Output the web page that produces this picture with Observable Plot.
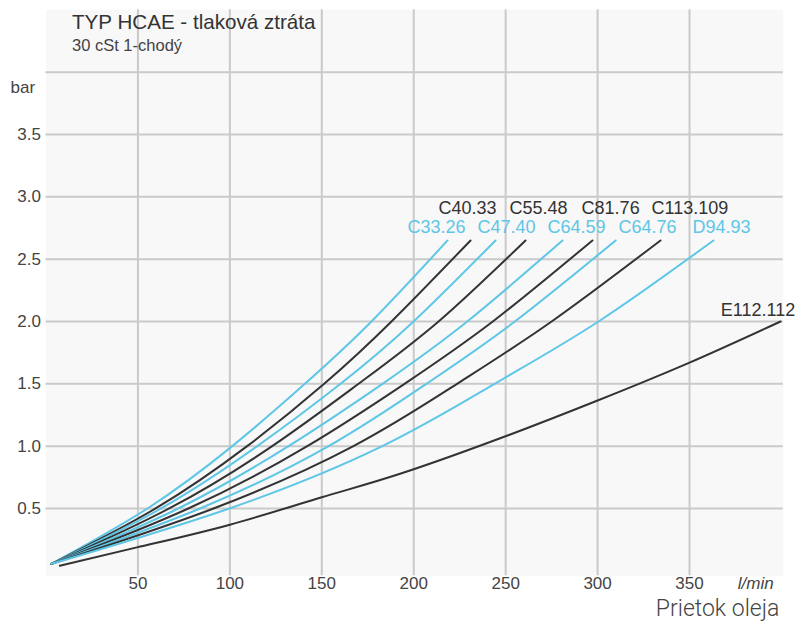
<!DOCTYPE html>
<html>
<head>
<meta charset="utf-8">
<script src="https://cdn.jsdelivr.net/npm/d3@7"></script>
<script src="https://cdn.jsdelivr.net/npm/@observablehq/plot@0.6"></script>
<style>
  html, body { margin: 0; padding: 0; background: #ffffff; }
  #chart svg { display: block; }
</style>
</head>
<body>
<div id="chart"></div>
<script>
// ---- data ----
const seriesNames = ["C33.26", "C40.33", "C47.40", "C55.48", "C64.59", "C81.76", "C64.76", "C113.109", "D94.93"];
const seriesGroup = ["light", "dark", "light", "dark", "light", "dark", "light", "dark", "light"];

// pressure levels (bar) at which each curve's flow was read
const pressureLevels = [0.056, 0.5, 1.0, 1.5, 2.0, 2.65];

// flow (l/min) of each curve at those pressure levels
const flowC33_26   = [3, 55.2, 101.3, 140.8, 177.0, 218.4];
const flowC40_33   = [3, 59.6, 109.4, 151.3, 187.9, 230.9];
const flowC47_40   = [3, 62.6, 114.9, 160.2, 199.9, 244.5];
const flowC55_48   = [3, 67.0, 123.0, 170.0, 213.5, 260.8];
const flowC64_59   = [3, 71.9, 131.9, 183.0, 229.1, 280.9];
const flowC81_76   = [3, 77.4, 142.1, 195.0, 243.0, 297.2];
const flowC64_76   = [3, 83.8, 153.7, 206.9, 255.0, 309.8];
const flowC113_109 = [3, 91.1, 167.2, 223.6, 275.0, 334.2];
const flowD94_93   = [3, 99.7, 182.9, 244.0, 300.5, 363.0];

// E112.112 curve
const eName = "E112.112";
const eFlow     = [7.5, 50, 100, 150, 193, 251, 300, 350, 399.5];
const ePressure = [0.04, 0.19, 0.37, 0.59, 0.78, 1.085, 1.366, 1.67, 2.0];

// curve label anchors (l/min, bar)
const labelFlow     = [196.6, 213.5, 234.7, 252.1, 272.8, 291.3, 311.4, 329.3, 351.6];
const labelPressure = [2.756, 2.91, 2.756, 2.91, 2.756, 2.91, 2.756, 2.91, 2.756];
const eLabelFlow = 407.5;
const eLabelPressure = 2.088;

// axes
const xTicks = [50, 100, 150, 200, 250, 300, 350];
const yTicks = [0.5, 1.0, 1.5, 2.0, 2.5, 3.0, 3.5];
const yGrid  = [0.5, 1.0, 1.5, 2.0, 2.5, 3.0, 3.5, 4.0];
const xUnitFlow = 386;

const titleText = "TYP HCAE - tlaková ztráta";
const subtitleText = "30 cSt 1-chodý";
const yUnit = "bar";
const xUnit = "l/min";
const footer = "Prietok oleja";

// ---- build tables ----
const curveFlows = [flowC33_26, flowC40_33, flowC47_40, flowC55_48, flowC64_59, flowC81_76, flowC64_76, flowC113_109, flowD94_93];
const rows = seriesNames.flatMap((name, i) =>
  curveFlows[i].map((f, j) => ({series: name, group: seriesGroup[i], flow: f, pressure: pressureLevels[j]}))
);
const eRows = eFlow.map((f, i) => ({series: eName, flow: f, pressure: ePressure[i]}));
const labels = seriesNames.map((name, i) => ({text: name, group: seriesGroup[i], flow: labelFlow[i], pressure: labelPressure[i]}));

const BLUE = "#5ec6e6";
const DARK = "#333333";
const FONT = "'Liberation Sans', Arial, Helvetica, sans-serif";

const chart = Plot.plot({
  width: 795,
  height: 623,
  marginLeft: 45.5,
  marginRight: 12.2,
  marginTop: 9.3,
  marginBottom: 47.7,
  style: {fontFamily: FONT, fontSize: "17px", color: "#444", background: "#ffffff"},
  x: {domain: [0, 401]},
  y: {domain: [-0.04, 4.5]},
  color: {type: "ordinal", domain: ["light", "dark"], range: [BLUE, DARK]},
  marks: [
    Plot.frame({fill: "#f8f8f8", stroke: null}),
    Plot.gridX(xTicks, {stroke: "#cacaca", strokeOpacity: 1, strokeWidth: 2}),
    Plot.gridY(yGrid, {stroke: "#cacaca", strokeOpacity: 1, strokeWidth: 2}),
    Plot.axisX(xTicks, {tickSize: 0, tickPadding: 1, fill: "#444", fontSize: 17, label: null}),
    Plot.axisY(yTicks, {tickSize: 0, tickPadding: 5, fill: "#444", fontSize: 17, label: null, tickFormat: d3.format(".1f")}),
    Plot.text([xUnit], {x: xUnitFlow, frameAnchor: "bottom", lineAnchor: "top", dy: 1, fontSize: 17, fontStyle: "italic", fill: "#444"}),
    Plot.text([yUnit], {frameAnchor: "top-left", textAnchor: "start", lineAnchor: "bottom", dx: -35.5, dy: 83, fontSize: 17, fill: "#444"}),
    Plot.text([titleText], {frameAnchor: "top-left", textAnchor: "start", lineAnchor: "bottom", dx: 26, dy: 18.7, fontSize: 20.6, fill: "#333"}),
    Plot.text([subtitleText], {frameAnchor: "top-left", textAnchor: "start", lineAnchor: "bottom", dx: 26, dy: 40.7, fontSize: 16.5, fill: "#444"}),
    Plot.text([footer], {frameAnchor: "bottom-right", textAnchor: "end", lineAnchor: "bottom", dx: -4, dy: 40.5, fontSize: 23, fontFamily: "Roboto", fontWeight: 300, fill: "#444"}),
    Plot.line(eRows, {x: "flow", y: "pressure", stroke: DARK, strokeWidth: 2, curve: "natural"}),
    Plot.line(rows, {x: "flow", y: "pressure", z: "series", stroke: "group", strokeWidth: 2, curve: "natural"}),
    Plot.text(labels, {x: "flow", y: "pressure", text: "text", fill: "group", textAnchor: "start", fontSize: 18}),
    Plot.text([eName], {x: eLabelFlow, y: eLabelPressure, textAnchor: "end", fontSize: 18, fill: DARK})
  ]
});
document.getElementById("chart").appendChild(chart);
</script>
</body>
</html>
